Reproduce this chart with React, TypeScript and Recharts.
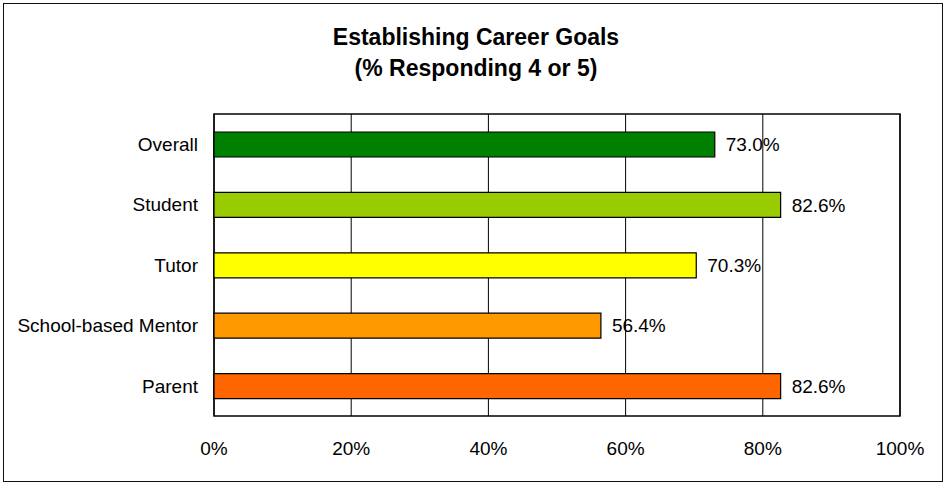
import { BarChart, Bar, XAxis, YAxis, CartesianGrid, ReferenceArea, Cell, LabelList } from "recharts";

const categories = ["Overall", "Student", "Tutor", "School-based Mentor", "Parent"];
const values = [73.0, 82.6, 70.3, 56.4, 82.6];
const barColors = ["#008000", "#99CC00", "#FFFF00", "#FF9900", "#FF6600"];
const xTicks = [0, 20, 40, 60, 80, 100];

const FONT = "'Liberation Sans', Arial, sans-serif";

export default function App() {
  const data = categories.map((name, i) => ({ name, value: values[i] }));

  return (
    <div
      style={{
        position: "absolute",
        left: 0,
        top: 0,
        width: 943,
        height: 483,
        overflow: "hidden",
        background: "#fff",
        fontFamily: FONT,
      }}
    >
      <div
        style={{
          position: "absolute",
          left: 3,
          top: 3,
          width: 940,
          height: 479,
          boxSizing: "border-box",
          border: "1px solid #111",
        }}
      />
      <div
        style={{
          position: "absolute",
          left: 5,
          top: 22,
          width: 942,
          textAlign: "center",
          fontWeight: "bold",
          fontSize: 23,
          lineHeight: "31px",
          color: "#000",
        }}
      >
        Establishing Career Goals
        <br />
        (% Responding 4 or 5)
      </div>
      <div style={{ position: "absolute", left: 0, top: 0 }}>
        <BarChart
          width={943}
          height={483}
          data={data}
          layout="vertical"
          margin={{ top: 114, right: 43, left: 14, bottom: 37 }}
          barSize={25}
        >
          <CartesianGrid horizontal={false} stroke="#000" strokeWidth={1} />
          <XAxis
            type="number"
            domain={[0, 100]}
            ticks={xTicks}
            tickFormatter={(v) => `${v}%`}
            axisLine={false}
            tickLine={false}
            tickSize={0}
            tickMargin={26}
            height={30}
            tick={{ fill: "#000", fontSize: 19, fontFamily: FONT }}
          />
          <YAxis
            type="category"
            dataKey="name"
            width={200}
            axisLine={false}
            tickLine={false}
            tickSize={0}
            tickMargin={16}
            tick={{ fill: "#000", fontSize: 19, fontFamily: FONT }}
          />
          <ReferenceArea x1={0} x2={100} fill="none" stroke="#000" strokeWidth={1.5} />
          <Bar dataKey="value" stroke="#000" strokeWidth={1.2} isAnimationActive={false}>
            {data.map((d, i) => (
              <Cell key={d.name} fill={barColors[i]} />
            ))}
            <LabelList
              dataKey="value"
              position="right"
              offset={11}
              formatter={(v: any) => `${Number(v).toFixed(1)}%`}
              style={{ fill: "#000", fontSize: 19, fontFamily: FONT }}
            />
          </Bar>
        </BarChart>
      </div>
    </div>
  );
}
